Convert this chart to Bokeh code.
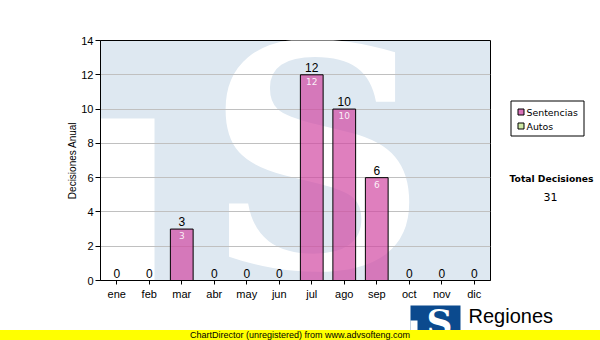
from bokeh.plotting import figure
from bokeh.models import FactorRange, Range1d, ColumnDataSource, Div, FixedTicker
from bokeh.layouts import column, row
from bokeh.core.properties import value
from bokeh.embed import file_html
from bokeh.resources import INLINE

# ---- data ----
months = ["ene", "feb", "mar", "abr", "may", "jun",
          "jul", "ago", "sep", "oct", "nov", "dic"]
sentencias = [0, 0, 3, 0, 0, 0, 12, 10, 6, 0, 0, 0]
autos = [0, 0, 0, 0, 0, 0, 0, 0, 0, 0, 0, 0]
series_names = ["Sentencias", "Autos"]
series_colors = ["#d872b8", "#cce8a4"]
y_ticks = [0, 2, 4, 6, 8, 10, 12, 14]
total_label = "Total Decisiones"
total_value = sum(sentencias) + sum(autos)

src = ColumnDataSource(dict(m=months, s=sentencias, a=autos,
                            lbl=[str(v + w) for v, w in zip(sentencias, autos)]))
nz = [i for i, v in enumerate(sentencias) if v > 0]
src_in = ColumnDataSource(dict(m=[months[i] for i in nz],
                               s=[sentencias[i] for i in nz],
                               lbl=[str(sentencias[i]) for i in nz]))

# pixel helpers for the watermark (frame: x 100..490, y 40..280)
def dx(px):
    return (px - 100) / 32.5

def dy(py):
    return (280 - py) * 14 / 240.0

p = figure(x_range=FactorRange(factors=months), y_range=Range1d(0, 14),
           width=491, height=304, output_backend="svg", toolbar_location=None,
           min_border_left=100, min_border_right=1, min_border_top=40,
           min_border_bottom=24, background_fill_color="#dee8f1",
           border_fill_color="white", outline_line_color="black",
           outline_line_width=1)

# watermark
p.quad(left=-1, right=dx(154), bottom=-1, top=dy(118),
       fill_color="white", line_color=None, level="image")
p.text(x=[dx(316)], y=[dy(159)], text=["S"],
       text_font=value("DejaVu Serif"), text_font_style="bold",
       text_font_size="308px", text_color="white",
       text_align="center", text_baseline="middle", level="image")

# grid / axes
p.xgrid.visible = False
p.ygrid.ticker = FixedTicker(ticks=y_ticks)
p.ygrid.grid_line_color = "#c0c0c0"
p.ygrid.level = "underlay"

p.yaxis.ticker = FixedTicker(ticks=y_ticks)
p.yaxis.major_tick_out = 5
p.yaxis.major_tick_in = 0
p.yaxis.minor_tick_line_color = None
p.yaxis.axis_line_color = "black"
p.yaxis.major_tick_line_color = "black"
p.yaxis.major_label_text_font = "Liberation Sans"
p.yaxis.major_label_text_font_size = "11px"
p.yaxis.major_label_text_color = "black"
p.yaxis.major_label_standoff = 2
p.yaxis.axis_label = "Decisiones Anual"
p.yaxis.axis_label_text_font = "Liberation Sans"
p.yaxis.axis_label_text_font_size = "10px"
p.yaxis.axis_label_text_font_style = "normal"
p.yaxis.axis_label_text_color = "black"
p.yaxis.axis_label_standoff = 0

p.xaxis.major_tick_out = 4
p.xaxis.major_tick_in = 0
p.xaxis.axis_line_color = "black"
p.xaxis.major_tick_line_color = "black"
p.xaxis.major_label_text_font = "Liberation Sans"
p.xaxis.major_label_text_font_size = "11px"
p.xaxis.major_label_text_color = "black"
p.xaxis.major_label_standoff = 3

# bars
p.vbar(x="m", top="s", width=0.7, source=src, fill_color="#d248a2",
       fill_alpha=0.7, line_color="black", line_width=1)
p.vbar(x="m", top="a", width=0.7, source=src, fill_color=series_colors[1],
       line_color="black", line_width=1)

# value labels
p.text(x="m", y="s", text="lbl", source=src, text_align="center",
       text_baseline="bottom", y_offset=-3, text_font=value("Liberation Sans"),
       text_font_size="12px", text_color="black")
p.text(x="m", y="s", text="lbl", source=src_in, text_align="center",
       text_baseline="top", y_offset=3, text_font=value("DejaVu Sans"),
       text_font_size="9px", text_color="white", text_alpha=0.9)

# ---- right panel: legend + total (frame aligned with main: y 40..280) ----
side = figure(width=109, height=304, x_range=Range1d(491, 600),
              y_range=Range1d(280, 40), output_backend="svg",
              toolbar_location=None, min_border_left=0, min_border_right=0,
              min_border_top=40, min_border_bottom=24, x_axis_location=None,
              y_axis_location=None, outline_line_color=None,
              background_fill_color="white", border_fill_color="white")
side.grid.visible = False
side.quad(left=[510.5], right=[583.5], top=[100.5], bottom=[135.5],
          fill_color="white", line_color="black", line_width=1)
side.quad(left=[517.5, 517.5], right=[523.5, 523.5], top=[108.5, 122.5],
          bottom=[114.5, 128.5], fill_color=series_colors, line_color="black",
          line_width=1)
side.text(x=[526, 526], y=[111.5, 125.5], text=series_names,
          text_align="left", text_baseline="middle",
          text_font=value("DejaVu Sans"), text_font_size="9.4px",
          text_color="black")
side.text(x=[551], y=[178], text=[total_label], text_align="center",
          text_baseline="middle", text_font=value("DejaVu Sans"),
          text_font_style="bold", text_font_size="9.2px", text_color="black")
side.text(x=[550], y=[196], text=[str(total_value)], text_align="center",
          text_baseline="middle", text_font=value("DejaVu Sans"),
          text_font_size="11px", text_color="black")

# ---- bottom strip: logo ----
bot = figure(width=600, height=26, x_range=Range1d(0, 600),
             y_range=Range1d(330, 304), output_backend="svg",
             toolbar_location=None, min_border=0, x_axis_location=None,
             y_axis_location=None, outline_line_color=None,
             background_fill_color="white", border_fill_color="white")
bot.grid.visible = False
bot.quad(left=[410], right=[460], top=[305], bottom=[345],
         fill_color="#0b4a8e", line_color=None)
bot.quad(left=[410], right=[417], top=[320], bottom=[345],
         fill_color="white", line_color=None)
bot.text(x=[439], y=[321], text=["S"], text_align="center", text_baseline="middle",
         text_font=value("DejaVu Serif"), text_font_style="bold",
         text_font_size="36px", text_color="white")
bot.text(x=[468], y=[315], text=["Regiones"], text_align="left",
         text_baseline="middle", text_font=value("Liberation Sans"),
         text_font_size="20px", text_color="black")

bar = Div(text="ChartDirector (unregistered) from www.advsofteng.com",
          width=600, height=10, margin=0,
          styles={"background-color": "#ffff00", "font-family": "Liberation Sans",
                  "font-size": "9px", "line-height": "10px",
                  "text-align": "center", "color": "black",
                  "overflow": "hidden"})

layout = column(row(p, side, spacing=0), bot, bar, spacing=0)
open("out.html", "w").write(file_html(layout, INLINE))
